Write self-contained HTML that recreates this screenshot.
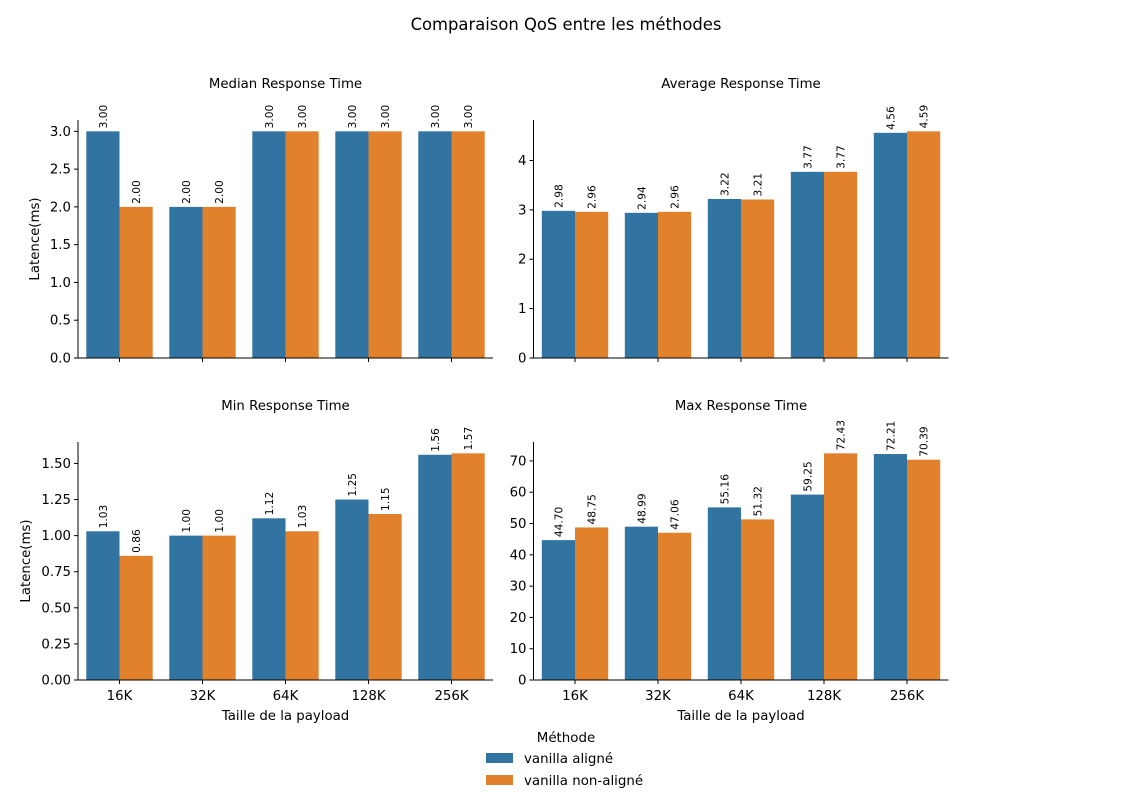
<!DOCTYPE html>
<html><head><meta charset="utf-8"><style>
body{margin:0;background:#fff}
svg{font-family:"DejaVu Sans","Liberation Sans",sans-serif}
</style></head><body>
<svg id="c" width="1133" height="800" viewBox="0 0 1133 800">
<text x="566" y="30" text-anchor="middle" font-size="16.4">Comparaison QoS entre les méthodes</text>
<g>
<text x="566" y="742" text-anchor="middle" font-size="13.4">Méthode</text>
<rect x="486" y="753" width="27" height="10" fill="#3274a1"/>
<text x="524" y="763" font-size="13.4">vanilla aligné</text>
<rect x="486" y="775" width="27" height="10" fill="#e1812c"/>
<text x="524" y="785" font-size="13.4">vanilla non-aligné</text>
</g>
</svg>
<script>
const categories = ["16K","32K","64K","128K","256K"];
const medianAligne = [3.00,2.00,3.00,3.00,3.00];
const medianNonAligne = [2.00,2.00,3.00,3.00,3.00];
const avgAligne = [2.98,2.94,3.22,3.77,4.56];
const avgNonAligne = [2.96,2.96,3.21,3.77,4.59];
const minAligne = [1.03,1.00,1.12,1.25,1.56];
const minNonAligne = [0.86,1.00,1.03,1.15,1.57];
const maxAligne = [44.70,48.99,55.16,59.25,72.21];
const maxNonAligne = [48.75,47.06,51.32,72.43,70.39];
const medianTicks = [0,0.5,1.0,1.5,2.0,2.5,3.0];
const avgTicks = [0,1,2,3,4];
const minTicks = [0,0.25,0.5,0.75,1.0,1.25,1.5];
const maxTicks = [0,10,20,30,40,50,60,70];

const svg = document.getElementById('c');
const NS = 'http://www.w3.org/2000/svg';
function mk(tag, attrs, parent){const e=document.createElementNS(NS,tag);for(const k in attrs)e.setAttribute(k,attrs[k]);(parent||svg).appendChild(e);return e;}

const panels = [
 {id:'median',title:'Median Response Time',a:medianAligne,b:medianNonAligne,ticks:medianTicks,dec:1,x0:78,x1:493,y0:120,y1:358,ylab:true,xlab:false,ylx:35},
 {id:'average',title:'Average Response Time',a:avgAligne,b:avgNonAligne,ticks:avgTicks,dec:0,x0:533.5,x1:948.5,y0:120,y1:358,ylab:false,xlab:false},
 {id:'min',title:'Min Response Time',a:minAligne,b:minNonAligne,ticks:minTicks,dec:2,x0:78,x1:493,y0:442,y1:680,ylab:true,xlab:true,ylx:26},
 {id:'max',title:'Max Response Time',a:maxAligne,b:maxNonAligne,ticks:maxTicks,dec:0,x0:533.5,x1:948.5,y0:442,y1:680,ylab:false,xlab:true}
];
panels.forEach(p=>{
 const g = mk('g',{});
 
 
 const ymax = Math.max(...p.a,...p.b)*1.05;
 const y = v => p.y1 - v/ymax*(p.y1-p.y0);
 const n = categories.length;
 const cw = (p.x1-p.x0)/n;
 const xc = i => p.x0 + cw*(i+0.5);
 const bw = cw*0.4;
 const t = mk('text',{x:(p.x0+p.x1)/2,y:p.y0-32,'text-anchor':'middle','font-size':13.3},g);
 t.textContent = p.title;
 
 
 [[p.a,'#3274a1',-1,'aligne'],[p.b,'#e1812c',0,'non-aligne']].forEach(([arr,col,off,nm])=>{
  arr.forEach((v,i)=>{
   const bx = xc(i)+off*bw;
   const r = mk('rect',{x:bx,y:y(v),width:bw,height:p.y1-y(v),fill:col},g);
   
   
   const lx = bx+bw/2+4, ly = y(v)-3;
   const l = mk('text',{x:lx,y:ly,'font-size':10.6,transform:`rotate(-90 ${lx} ${ly})`},g);
   l.textContent = v.toFixed(2);
   
   
  });
 });
 mk('line',{x1:p.x0,y1:p.y0,x2:p.x0,y2:p.y1,stroke:'#000','stroke-width':1},g);
 mk('line',{x1:p.x0,y1:p.y1,x2:p.x1,y2:p.y1,stroke:'#000','stroke-width':1},g);
 p.ticks.forEach(tv=>{
  const ty = y(tv);
  mk('line',{x1:p.x0-4,y1:ty,x2:p.x0,y2:ty,stroke:'#000'},g);
  const tl = mk('text',{x:p.x0-7,y:ty+4.5,'text-anchor':'end','font-size':13.3},g);
  tl.textContent = tv.toFixed(p.dec);
  
  
 });
 categories.forEach((c,i)=>{
  mk('line',{x1:xc(i),y1:p.y1,x2:xc(i),y2:p.y1+4,stroke:'#000'},g);
  if(p.xlab){
   const xl = mk('text',{x:xc(i),y:p.y1+20,'text-anchor':'middle','font-size':13.3},g);
   xl.textContent = c;
   
   
  }
 });
 if(p.xlab){
  const xt = mk('text',{x:(p.x0+p.x1)/2,y:p.y1+40,'text-anchor':'middle','font-size':13.3},g);
  xt.textContent = 'Taille de la payload';
  
  
 }
 if(p.ylab){
  const cy=(p.y0+p.y1)/2;
  const yt = mk('text',{x:p.ylx+4,y:cy,'text-anchor':'middle','font-size':13.3,transform:`rotate(-90 ${p.ylx+4} ${cy})`},g);
  yt.textContent = 'Latence(ms)';
  
  
 }
});
</script>
</body></html>
